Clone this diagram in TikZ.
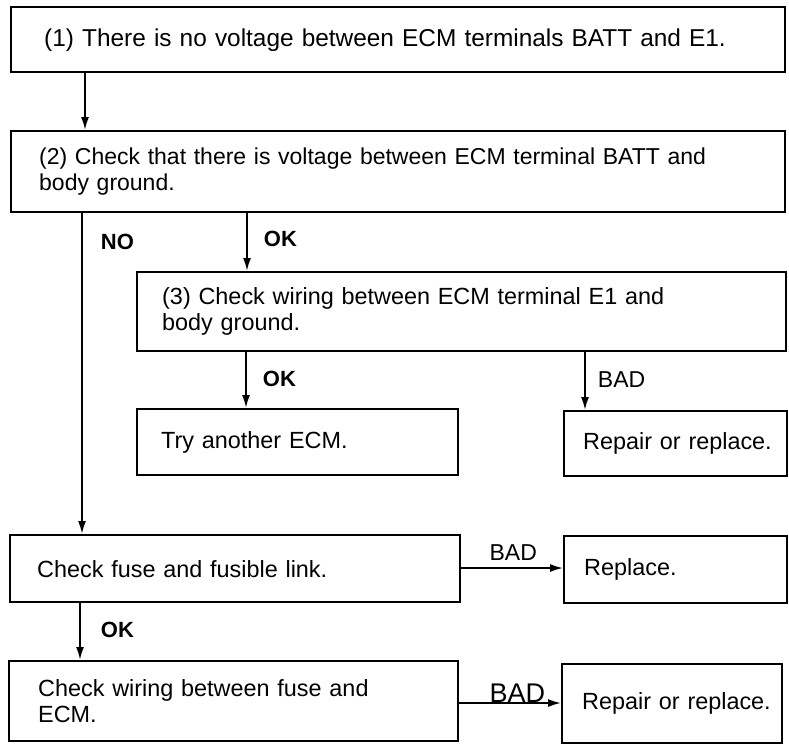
\documentclass[tikz,border=0pt]{standalone}
\usepackage{fontspec}
\setmainfont{Liberation Sans}
\usetikzlibrary{positioning, arrows.meta}

\begin{document}
\begin{tikzpicture}[
    x=1pt, y=-1pt,
    box/.style={
        rectangle,
        draw=black,
        line width=2.4pt,
        anchor=north west,
        inner ysep=0pt,
        align=left,
        font=\fontsize{23.4}{26}\selectfont
    },
    arrow/.style={
        -{Latex[length=13pt, width=8pt]},
        line width=1.8pt,
        draw=black
    },
    oklabel/.style={
        anchor=west,
        inner sep=0pt,
        font=\fontsize{22}{22}\selectfont\bfseries
    },
    badlabel/.style={
        anchor=west,
        inner sep=0pt,
        font=\fontsize{23}{23}\selectfont
    }
]
\useasboundingbox (0,0) rectangle (789,750);

\node[box, inner xsep=33pt, text width=708pt, minimum height=65pt,
      font=\fontsize{24.4}{26}\selectfont] (novolt) at (10,6)
    {(1) There is no voltage between ECM terminals BATT and E1.};
\node[box, inner xsep=28pt, text width=718pt, minimum height=81pt,
      font=\fontsize{23}{25.5}\selectfont] (battchk) at (10,130)
    {(2) Check that there is voltage between ECM terminal BATT and\\body ground.};
\node[box, inner xsep=25pt, text width=599pt, minimum height=79pt] (wirechk) at (136,271)
    {(3) Check wiring between ECM terminal E1 and\\body ground.};
\node[box, inner xsep=24pt, text width=273pt, minimum height=66pt] (tryecm) at (136,408)
    {Try another ECM.};
\node[box, inner xsep=19pt, text width=185pt, minimum height=65pt] (repaira) at (563,410)
    {\mbox{Repair or replace.}};
\node[box, inner xsep=27pt, text width=396pt, minimum height=67pt] (fusechk) at (9,534)
    {Check fuse and fusible link.};
\node[box, inner xsep=20pt, text width=183pt, minimum height=67pt] (replace) at (563,535)
    {Replace.};
\node[box, inner xsep=29pt, text width=391pt, minimum height=80pt] (fusewire) at (8,660)
    {Check wiring between fuse and\\ECM.};
\node[box, inner xsep=20pt, text width=180pt, minimum height=79pt] (repairb) at (561,663)
    {\mbox{Repair or replace.}};

% vertical flow
\draw[arrow] ([xshift=75pt]novolt.south west) -- ([xshift=75pt]novolt.south west |- battchk.north);
\draw[arrow] ([xshift=72pt]battchk.south west)
    -- node[oklabel, pos=0.09, xshift=18pt] {NO} ([xshift=72pt]battchk.south west |- fusechk.north);
\draw[arrow] ([xshift=237pt]battchk.south west)
    -- node[oklabel, pos=0.45, xshift=16pt] {OK} ([xshift=237pt]battchk.south west |- wirechk.north);
\draw[arrow] ([xshift=110pt]wirechk.south west)
    -- node[oklabel, pos=0.47, xshift=16pt] {OK} ([xshift=110pt]wirechk.south west |- tryecm.north);
\draw[arrow] ([xshift=449pt]wirechk.south west)
    -- node[badlabel, pos=0.47, xshift=12pt] {BAD} ([xshift=449pt]wirechk.south west |- repaira.north);
\draw[arrow] ([xshift=71pt]fusechk.south west)
    -- node[oklabel, pos=0.46, xshift=20pt] {OK} ([xshift=71pt]fusechk.south west |- fusewire.north);

% BAD branches to the right
\draw[arrow] ([yshift=-34pt]fusechk.north east)
    -- node[badlabel, anchor=south, pos=0.51, yshift=7pt] {BAD} ([yshift=-34pt]fusechk.north east -| replace.west);
\draw[arrow] ([yshift=-43pt]fusewire.north east)
    -- node[badlabel, anchor=south, pos=0.57, font=\fontsize{27}{27}\selectfont] {BAD} ([yshift=-43pt]fusewire.north east -| repairb.west);

\end{tikzpicture}
\end{document}
